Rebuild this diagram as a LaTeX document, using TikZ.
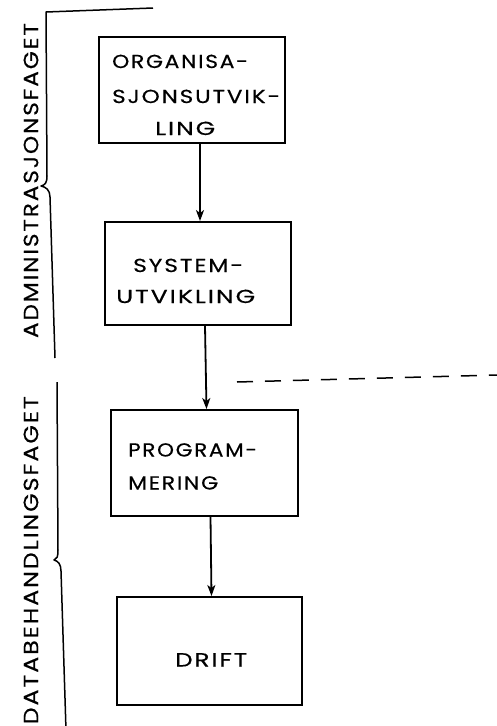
\documentclass[tikz,border=0pt]{standalone}
\usepackage{fontspec}
\usepackage{graphicx}
\setmainfont{Poppins}
\newfontfamily\boxfont{Poppins}[LetterSpace=8,FakeBold=0.4]
\usetikzlibrary{arrows.meta}

% one caption line, set to a given width with capitals of fixed height
\newcommand\capline[2]{\resizebox{#1}{13.3pt}{\boxfont #2}}

\tikzset{
  stage/.style={draw=black, line width=1.9pt, rectangle, inner sep=0pt},
  boxtext/.style={inner sep=0pt, anchor=base west},
  sidetext/.style={inner sep=0pt, rotate=90},
  flow/.style={draw=black, line width=1.8pt, -{Stealth[length=11pt,width=8pt,inset=3pt]}},
  brace/.style={draw=black, line width=1.5pt, line join=round},
  cutline/.style={draw=black, line width=1.5pt, dash pattern=on 16pt off 12pt}
}

\begin{document}
\begin{tikzpicture}[x=1pt,y=-1pt]
\useasboundingbox (0,0) rectangle (497,726);

% process boxes
\node[stage, minimum width=186pt, minimum height=106pt] (org)   at (192,90)    {};
\node[stage, minimum width=186pt, minimum height=103pt] (sys)   at (198,273.5) {};
\node[stage, minimum width=187pt, minimum height=106pt] (prog)  at (204.5,463) {};
\node[stage, minimum width=185pt, minimum height=108pt] (drift) at (209.5,651) {};

% box captions
\node[boxtext] (orgA)  at (112,68)  {\capline{136pt}{ORGANISA-}};
\node[boxtext] (orgB)  at (112,103) {\capline{168pt}{SJONSUTVIK-}};
\node[boxtext] (orgC)  at (155,135) {\capline{60pt}{LING}};
\node[boxtext] (sysA)  at (133,272) {\capline{110pt}{SYSTEM-}};
\node[boxtext] (sysB)  at (116,303) {\capline{139pt}{UTVIKLING}};
\node[boxtext] (progA) at (128,456.5) {\capline{129pt}{PROGRAM-}};
\node[boxtext] (progB) at (128,489.5) {\capline{90pt}{MERING}};
\node[boxtext] (drA)   at (175,666.5) {\capline{72pt}{DRIFT}};

% flow arrows
\draw[flow] ([xshift=8pt]org.south)  -- ([xshift=2pt]sys.north);
\draw[flow] ([xshift=7pt]sys.south)  -- ([xshift=2pt]prog.north);
\draw[flow] ([xshift=6pt]prog.south) -- ([xshift=2pt]drift.north);

% boundary between the two subjects
\coordinate (cutL) at (237,382);
\coordinate (cutR) at (497,375);
\draw[cutline] (cutL) -- (cutR);

% braces
\draw[brace] (153,8) -- (46,12) -- (47,176)
  .. controls (47,183) and (45,185) .. (41,186)
  .. controls (46,187) and (50,190) .. (50,197) -- (55,358);
\draw[brace] (57,382) -- (58,550)
  .. controls (58,557) and (57,559) .. (54,560)
  .. controls (58,561) and (61,564) .. (61,571) -- (66,730);

% subject labels
\node[sidetext] (admin) at (31,180.5)
  {\resizebox{315pt}{14.5pt}{\boxfont ADMINISTRASJONSFAGET}};
\node[sidetext, anchor=south east] (datab) at (38.5,396)
  {\resizebox{328pt}{14.5pt}{\boxfont DATABEHANDLINGSFAGET}};
\end{tikzpicture}
\end{document}
